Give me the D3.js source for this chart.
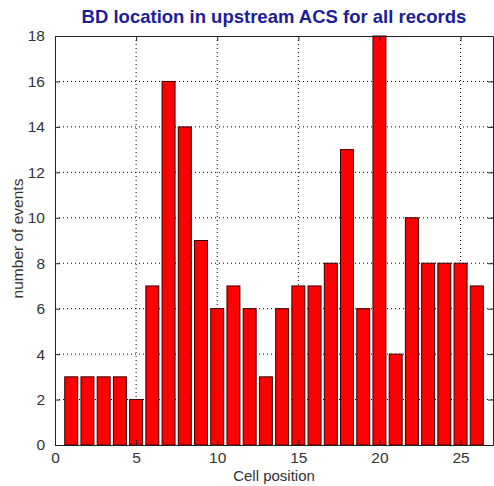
<!DOCTYPE html>
<html>
<head>
<meta charset="utf-8">
<script src="https://cdn.jsdelivr.net/npm/d3@7"></script>
<style>
  body { margin: 0; background: #fff; }
  svg { font-family: 'Liberation Sans', Arial, sans-serif; }
  .grid line { stroke: #000; stroke-dasharray: 1 3; stroke-width: 1; }
</style>
</head>
<body>
<svg id="chart"></svg>
<script>
const positions = d3.range(1, 27)
const counts = [3, 3, 3, 3, 2, 7, 16, 14, 9, 6, 7, 6, 3, 6, 7, 7, 8, 13, 6, 18, 4, 10, 8, 8, 8, 7]
const xTicks = [0, 5, 10, 15, 20, 25]
const yTicks = [0, 2, 4, 6, 8, 10, 12, 14, 16, 18]

const width = 494
const height = 486
const margin = { top: 36, right: 1, bottom: 41, left: 55 }

const svg = d3.select('#chart')
    .attr('width', width)
    .attr('height', height)

const x = d3.scaleLinear()
    .domain([0, 27])
    .range([margin.left, width - margin.right])

const y = d3.scaleLinear()
    .domain([0, 18])
    .range([height - margin.bottom, margin.top])

// dotted grid
const grid = svg.append('g').attr('class', 'grid')
grid.selectAll('.gy')
    .data(yTicks.slice(1, -1))
    .enter()
    .append('line')
    .attr('x1', x(0)).attr('x2', x(27))
    .attr('y1', d => y(d)).attr('y2', d => y(d))
grid.selectAll('.gx')
    .data(xTicks.slice(1))
    .enter()
    .append('line')
    .attr('y1', y(0)).attr('y2', y(18))
    .attr('x1', d => x(d)).attr('x2', d => x(d))

// bars
const bw = 0.8
svg.selectAll('.bar')
    .data(counts)
    .enter()
    .append('rect')
    .attr('x', (d, i) => x(positions[i] - bw / 2))
    .attr('y', d => y(d))
    .attr('width', x(bw) - x(0))
    .attr('height', d => y(0) - y(d))
    .attr('fill', '#ff0000')
    .attr('stroke', '#3a0000')
    .attr('stroke-width', 1)

// axes, inward ticks
const tk = 5
svg.append('g')
    .attr('transform', `translate(0,${y(0)})`)
    .call(d3.axisBottom(x).tickValues(xTicks).tickSizeInner(-tk).tickSizeOuter(0).tickPadding(7))
svg.append('g')
    .attr('transform', `translate(0,${y(18)})`)
    .call(d3.axisTop(x).tickValues(xTicks).tickSizeInner(-tk).tickSizeOuter(0).tickFormat(''))
svg.append('g')
    .attr('transform', `translate(${x(0)},0)`)
    .call(d3.axisLeft(y).tickValues(yTicks).tickSizeInner(-tk).tickSizeOuter(0).tickPadding(10))
svg.append('g')
    .attr('transform', `translate(${x(27)},0)`)
    .call(d3.axisRight(y).tickValues(yTicks).tickSizeInner(-tk).tickSizeOuter(0).tickFormat(''))

svg.selectAll('.tick text')
    .attr('font-size', 15.5)
    .attr('font-family', "'Liberation Sans', Arial, sans-serif")
    .attr('fill', '#333')
svg.selectAll('.domain').attr('stroke', '#222')
svg.selectAll('.tick line').attr('stroke', '#222')

svg.append('text')
    .attr('x', 274)
    .attr('y', 23)
    .attr('text-anchor', 'middle')
    .attr('font-size', 18.5)
    .attr('font-weight', 'bold')
    .attr('fill', '#1c1c9c')
    .text('BD location in upstream ACS for all records')

svg.append('text')
    .attr('x', 274)
    .attr('y', 481)
    .attr('text-anchor', 'middle')
    .attr('font-size', 15)
    .attr('fill', '#333')
    .text('Cell position')

svg.append('text')
    .attr('transform', `translate(23,${y(9) - 2}) rotate(-90)`)
    .attr('text-anchor', 'middle')
    .attr('font-size', 15.5)
    .attr('fill', '#333')
    .text('number of events')
</script>
</body>
</html>
